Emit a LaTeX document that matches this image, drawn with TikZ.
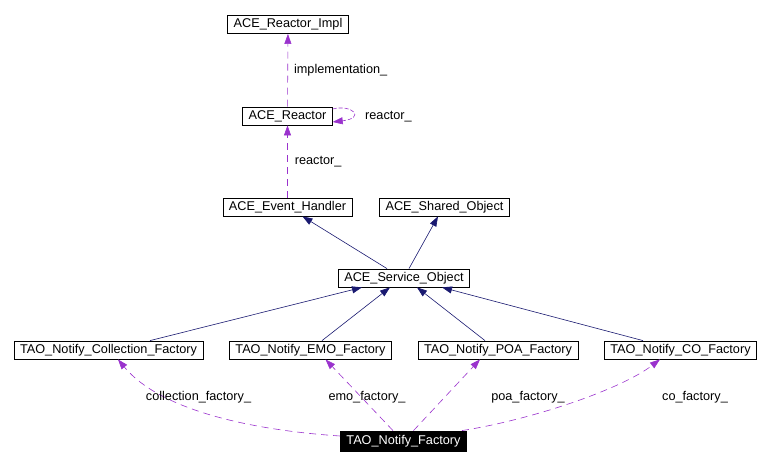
\documentclass[tikz,border=0pt]{standalone}
\usepackage{fontspec}
\setmainfont{Liberation Sans}
\usetikzlibrary{arrows.meta}
\definecolor{inhblue}{HTML}{191970}
\definecolor{usepurple}{HTML}{9A32CD}
\begin{document}
\begin{tikzpicture}[x=1pt, y=-1pt,
	cls/.style={draw, fill=white, line width=.8pt, inner xsep=6pt, inner ysep=0pt,
		minimum height=18pt, font=\fontsize{12.7}{14}\selectfont},
	inh/.style={inhblue, line width=.6pt, -{Triangle[length=10pt,width=7pt]}},
	uses/.style={usepurple, line width=.6pt, dash pattern=on 7pt off 5pt,
		-{Triangle[length=10pt,width=7pt]}},
	lbl/.style={font=\fontsize{12.7}{14}\selectfont, inner sep=0pt, text=black}]
\useasboundingbox (0, 0) rectangle (772, 465);

\node[cls] (impl) at (288, 24.5) {ACE\_Reactor\_Impl};
\node[cls] (reactor) at (287.5, 116) {ACE\_Reactor};
\node[cls] (evh) at (287.5, 207) {ACE\_Event\_Handler};
\node[cls] (shared) at (444.5, 207) {ACE\_Shared\_Object};
\node[cls] (svc) at (404, 278) {ACE\_Service\_Object};
\node[cls] (coll) at (108.5, 350) {TAO\_Notify\_Collection\_Factory};
\node[cls] (emo) at (310.5, 350) {TAO\_Notify\_EMO\_Factory};
\node[cls] (poa) at (498, 350) {TAO\_Notify\_POA\_Factory};
\node[cls] (co) at (680.5, 350) {TAO\_Notify\_CO\_Factory};
\node[cls, fill=black, text=white, minimum height=20pt] (fac) at (403.5, 441) {TAO\_Notify\_Factory};

% inheritance
\draw[inh] ([xshift=-17pt]svc.north) -- ([xshift=15pt]evh.south);
\draw[inh] ([xshift=5pt]svc.north) -- ([xshift=-6.5pt]shared.south);
\draw[inh] ([xshift=41.5pt]coll.north) -- ([xshift=-42pt]svc.south);
\draw[inh] ([xshift=11.5pt]emo.north) -- ([xshift=-14pt]svc.south);
\draw[inh] ([xshift=-13pt]poa.north) -- ([xshift=13pt]svc.south);
\draw[inh] ([xshift=-37.5pt]co.north) -- ([xshift=38pt]svc.south);

% members
\draw[uses] (reactor) -- (impl) node[lbl, pos=.5, right=6pt] {implementation\_};
\draw[uses] (evh) -- (reactor) node[lbl, pos=.5, right=7pt] {reactor\_};
\draw[uses, dash pattern=on 4pt off 2pt] ([yshift=7pt]reactor.east) .. controls (352, 104) and (366, 118) .. ([yshift=-6pt]reactor.east);
\node[lbl, anchor=west] (reactorlbl) at (365, 117) {reactor\_};

\draw[uses] ([yshift=5pt]fac.west) .. controls (250, 430) and (160, 410) .. ([xshift=9.5pt]coll.south);
\draw[uses] ([xshift=-10.5pt]fac.north) -- ([xshift=15pt]emo.south);
\draw[uses] ([xshift=10pt]fac.north) -- ([xshift=-18pt]poa.south);
\draw[uses] ([xshift=-5pt]fac.north east) .. controls (530, 420) and (620, 390) .. ([xshift=-20.5pt]co.south);

\node[lbl] (colllbl) at (198.5, 397) {collection\_factory\_};
\node[lbl] (emolbl) at (367, 397) {emo\_factory\_};
\node[lbl] (poalbl) at (528, 397) {poa\_factory\_};
\node[lbl] (colbl) at (695, 397) {co\_factory\_};
\end{tikzpicture}
\end{document}
